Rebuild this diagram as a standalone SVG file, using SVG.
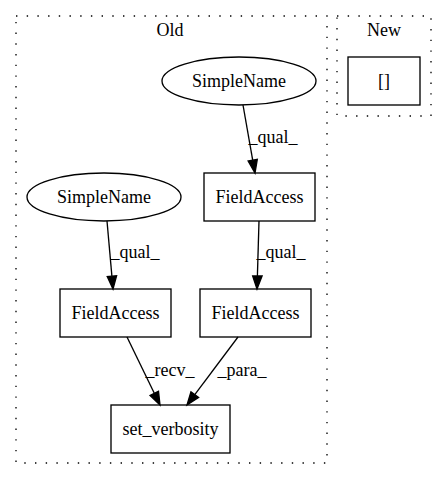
<svg xmlns="http://www.w3.org/2000/svg" width="447" height="480" viewBox="0 0 447 480">
<style>
text{font-family:'Liberation Serif','Times New Roman',Times,serif;font-size:18px;fill:#000;text-anchor:middle}
.cl{fill:none;stroke:#000;stroke-dasharray:1.4,9.3;stroke-width:1.33}
.n{fill:none;stroke:#000;stroke-width:1.33}
.e{fill:none;stroke:#000;stroke-width:1.33}
.ah{fill:#000;stroke:#000;stroke-width:1.33}
</style>
<rect width="447" height="480" fill="#fff"/>
<g id="cluster_old">
<rect class="cl" x="16" y="16" width="311" height="447"/>
<text x="170" y="36">Old</text>
</g>
<g id="cluster_new">
<rect class="cl" x="337" y="16" width="94" height="100"/>
<text x="384" y="36">New</text>
</g>
<g id="node_new_list">
<rect class="n" x="348" y="57" width="72" height="48"/>
<text x="384" y="87">[]</text>
</g>
<g id="node_simplename1">
<ellipse class="n" cx="239" cy="81" rx="77" ry="24"/>
<text x="239" y="87">SimpleName</text>
</g>
<g id="node_simplename2">
<ellipse class="n" cx="104" cy="197" rx="77" ry="24"/>
<text x="104" y="203">SimpleName</text>
</g>
<g id="node_fieldaccess_top">
<rect class="n" x="204" y="173" width="111" height="48"/>
<text x="259.500" y="203">FieldAccess</text>
</g>
<g id="node_fieldaccess_left">
<rect class="n" x="60" y="289" width="111" height="48"/>
<text x="115.500" y="319">FieldAccess</text>
</g>
<g id="node_fieldaccess_right">
<rect class="n" x="200" y="289" width="111" height="48"/>
<text x="255.500" y="319">FieldAccess</text>
</g>
<g id="node_set_verbosity">
<rect class="n" x="111" y="405" width="119" height="48"/>
<text x="170.500" y="435">set_verbosity</text>
</g>
<g id="edges">
<path class="e" d="M243,105 L252.700,160.200"/>
<polygon class="ah" points="248.100,161 255,173 257.300,159.400"/>
<text x="273" y="143">_qual_</text>
<path class="e" d="M107,221 L111.900,276.100"/>
<polygon class="ah" points="107.200,276.500 113,289 116.600,275.700"/>
<text x="135" y="258">_qual_</text>
<path class="e" d="M259,221 L257.400,276"/>
<polygon class="ah" points="252.700,276 257,289 262.100,276"/>
<text x="281" y="258">_qual_</text>
<path class="e" d="M127,337 L154.300,393.300"/>
<polygon class="ah" points="150.100,395.400 160,405 158.500,391.300"/>
<text x="170" y="376">_recv_</text>
<path class="e" d="M238,337 L194.800,394.600"/>
<polygon class="ah" points="191,391.800 187,405 198.600,397.400"/>
<text x="242" y="376">_para_</text>
</g>
</svg>
